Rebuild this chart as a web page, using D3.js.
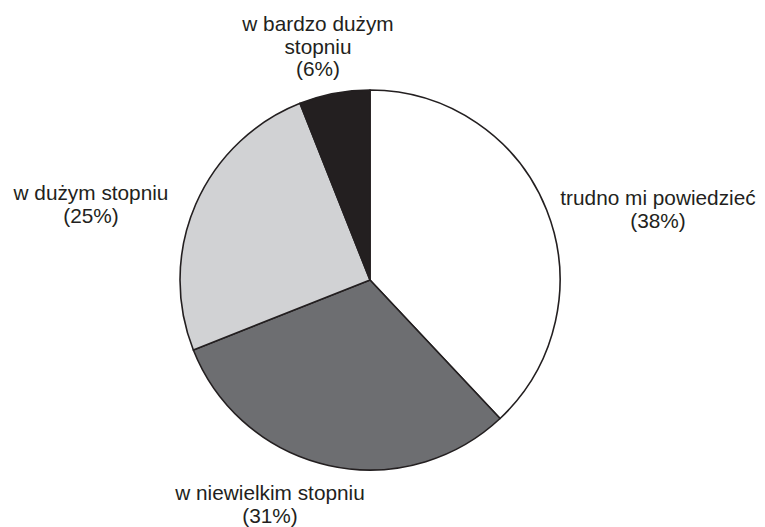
<!DOCTYPE html>
<html>
<head>
<meta charset="utf-8">
<script src="https://cdn.jsdelivr.net/npm/d3@7"></script>
<style>
  body { margin: 0; background: #fff; }
  text { font-family: "Liberation Sans", Arial, sans-serif; font-size: 20.8px; fill: #231f20; }
</style>
</head>
<body>
<div id="chart"></div>
<script>
const categories = ["trudno mi powiedzieć", "w niewielkim stopniu", "w dużym stopniu", "w bardzo dużym stopniu"];
const values = [38, 31, 25, 6];
const colors = ["#ffffff", "#6d6e71", "#d1d2d4", "#231f20"];
// label lines as printed in the reference
const labelLines = [
  ["trudno mi powiedzieć", "(38%)"],
  ["w niewielkim stopniu", "(31%)"],
  ["w dużym stopniu", "(25%)"],
  ["w bardzo dużym", "stopniu", "(6%)"]
];
const labelPos = [[658, 205], [270, 500], [91, 200], [318, 31]];

const w = 765, h = 527;
const cx = 370, cy = 280, r = 190;

const svg = d3.select("#chart").append("svg")
  .attr("width", w).attr("height", h);

const data = categories.map((c, i) => ({ name: c, value: values[i], i: i }));
const pie = d3.pie().sort(null).value(d => d.value);
const arc = d3.arc().innerRadius(0).outerRadius(r);

svg.append("g")
  .attr("transform", "translate(" + cx + "," + cy + ")")
  .selectAll("path")
  .data(pie(data))
  .enter().append("path")
  .attr("d", arc)
  .attr("fill", d => colors[d.data.i])
  .attr("stroke", "#231f20")
  .attr("stroke-width", 1.6)
  .attr("stroke-linejoin", "round");

const labels = svg.append("g").selectAll("text")
  .data(data)
  .enter().append("text")
  .attr("text-anchor", "middle")
  .attr("x", d => labelPos[d.i][0])
  .attr("y", d => labelPos[d.i][1]);

labels.selectAll("tspan")
  .data(d => labelLines[d.i].map(t => ({ t: t, x: labelPos[d.i][0] })))
  .enter().append("tspan")
  .attr("x", d => d.x)
  .attr("dy", (d, j) => j === 0 ? 0 : 22.5)
  .text(d => d.t);
</script>
</body>
</html>
